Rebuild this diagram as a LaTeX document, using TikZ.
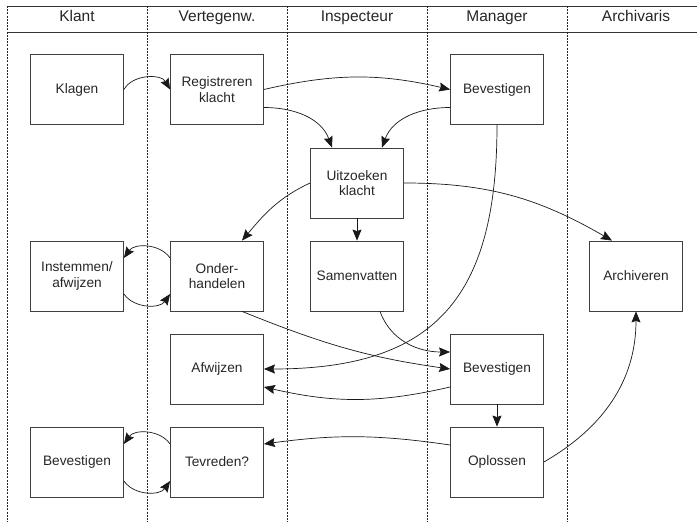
\documentclass[tikz,border=0pt]{standalone}
\usepackage{fontspec}
\setmainfont{Liberation Sans}
\usetikzlibrary{arrows.meta}
\begin{document}
\begin{tikzpicture}[x=1pt,y=1pt,
  lane/.style={black!85, line width=0.7pt, dash pattern=on 2pt off 1.2pt},
  rule/.style={black!80, line width=0.8pt},
  lanetitle/.style={anchor=base, text=black!85, font=\fontsize{15.5}{18}\selectfont},
  task/.style={draw=black!75, line width=0.8pt, minimum width=93pt, minimum height=70pt,
    inner sep=0pt, align=center, text=black!85, font=\fontsize{13.7}{15.7}\selectfont},
  flow/.style={black!90, line width=0.7pt, -{Stealth[length=11pt,width=9pt,inset=1.5pt]}}]
\useasboundingbox (0,0) rectangle (697,522);
% swimlane frame
\draw[rule] (7,516) -- (697,516);
\draw[rule] (7,490) -- (697,490);
\foreach \x in {7,147,287,427,567} \draw[lane] (\x,516) -- (\x,0);
\node[lanetitle] (tklant) at (77,500) {Klant};
\node[lanetitle] (tverteg) at (217,500) {Vertegenw.};
\node[lanetitle] (tinsp) at (357,500) {Inspecteur};
\node[lanetitle] (tman) at (497,500) {Manager};
\node[lanetitle] (tarch) at (636,500) {Archivaris};
% tasks
\node[task] (klagen) at (77,432.5) {Klagen};
\node[task] (reg) at (217,432.5) {Registreren\\klacht};
\node[task] (bevA) at (497,432.5) {Bevestigen};
\node[task] (uitz) at (357,339) {Uitzoeken\\klacht};
\node[task] (instem) at (77,246) {Instemmen/\\afwijzen};
\node[task] (onder) at (217,246) {Onder-\\handelen};
\node[task] (samen) at (357,246) {Samenvatten};
\node[task] (arch) at (636,246) {Archiveren};
\node[task] (afw) at (217,153) {Afwijzen};
\node[task] (bevB) at (497,153) {Bevestigen};
\node[task] (bevC) at (77,60) {Bevestigen};
\node[task] (tev) at (217,60) {Tevreden?};
\node[task] (opl) at (497,60) {Oplossen};
% flows
\draw[flow] (klagen.east) to[bend left=60] (reg.west);
\draw[flow] (reg.east) to[bend left=13] (bevA.west);
\draw[flow] ([yshift=-18pt]reg.east) to[out=0,in=110] ([xshift=-25pt]uitz.north);
\draw[flow] ([yshift=-18pt]bevA.west) to[out=180,in=70] ([xshift=25pt]uitz.north);
\draw[flow] (uitz.west) to[out=205,in=50] ([xshift=25pt]onder.north);
\draw[flow] (uitz.south) -- (samen.north);
\draw[flow] (uitz.east) to[out=0,in=150] ([xshift=-24pt]arch.north);
\draw[flow] (bevA.south) to[out=-90,in=0,looseness=1.3] (afw.east);
\draw[flow] ([xshift=25pt]onder.south) to[out=-22,in=172] (bevB.west);
\draw[flow] ([xshift=23pt]samen.south) to[out=-70,in=180] ([yshift=17pt]bevB.west);
\draw[flow] ([yshift=-18pt]bevB.west) to[bend left=13] ([yshift=-18pt]afw.east);
\draw[flow] (bevB.south) -- (opl.north);
\draw[flow] ([yshift=17pt]opl.west) to[bend right=8] ([yshift=18pt]tev.east);
\draw[flow] (opl.east) to[out=30,in=-90] (arch.south);
\draw[flow] ([yshift=18pt]onder.west) to[bend right=55] ([yshift=18pt]instem.east);
\draw[flow] ([yshift=-18pt]instem.east) to[bend right=55] ([yshift=-18pt]onder.west);
\draw[flow] ([yshift=18pt]tev.west) to[bend right=55] ([yshift=18pt]bevC.east);
\draw[flow] ([yshift=-19pt]bevC.east) to[bend right=55] ([yshift=-19pt]tev.west);
\end{tikzpicture}
\end{document}
